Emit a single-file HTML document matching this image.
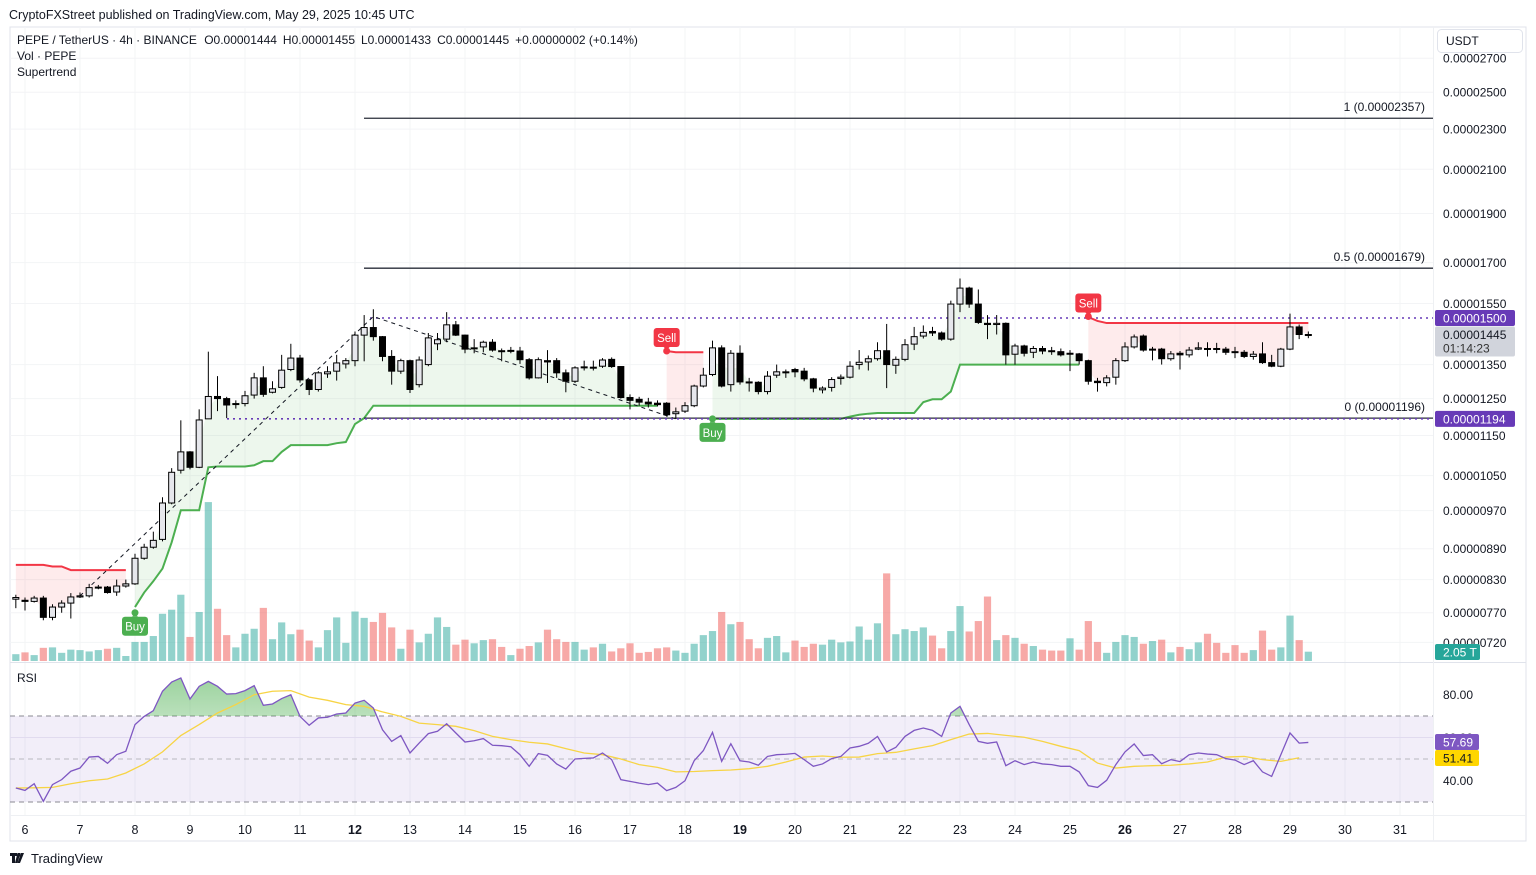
<!DOCTYPE html>
<html><head><meta charset="utf-8">
<style>
html,body{margin:0;padding:0;background:#fff;width:1536px;height:875px;overflow:hidden}
svg{display:block;font-family:"Liberation Sans",Arial,sans-serif}
</style></head>
<body>
<svg id="chart" width="1536" height="875" viewBox="0 0 1536 875" xmlns="http://www.w3.org/2000/svg">
<defs>
<clipPath id="mainClip"><rect x="10" y="27" width="1423" height="635"/></clipPath>
<clipPath id="rsiClip"><rect x="10" y="663" width="1423" height="152"/></clipPath>
<clipPath id="obClip"><rect x="10" y="663" width="1423" height="53"/></clipPath>
<linearGradient id="obGrad" x1="0" y1="0" x2="0" y2="1"><stop offset="0" stop-color="#4caf50" stop-opacity="0.55"/><stop offset="1" stop-color="#4caf50" stop-opacity="0.02"/></linearGradient>
</defs>
<text x="9" y="19" font-size="12.5" fill="#131722">CryptoFXStreet published on TradingView.com, May 29, 2025 10:45 UTC</text>
<rect x="10" y="27" width="1516" height="814" fill="none" stroke="#e0e3eb"/>
<g id="grid"></g>
<g id="rsiBand"></g>
<g id="main" clip-path="url(#mainClip)"></g>
<g id="rsi"></g>
<line x1="10" y1="662.5" x2="1526" y2="662.5" stroke="#e0e3eb"/>
<line x1="10" y1="815.5" x2="1526" y2="815.5" stroke="#eef0f3"/>
<line x1="1433.5" y1="27" x2="1433.5" y2="841" stroke="#eef0f3"/>
<g id="axes"></g>
<g font-size="12" fill="#131722">
<text x="17" y="44">PEPE / TetherUS · 4h · BINANCE  <tspan dx="4">O0.00001444</tspan><tspan dx="6">H0.00001455</tspan><tspan dx="6">L0.00001433</tspan><tspan dx="6">C0.00001445</tspan><tspan dx="6">+0.00000002 (+0.14%)</tspan></text>
<text x="17" y="60">Vol · PEPE</text>
<text x="17" y="76">Supertrend</text>
<text x="17" y="682">RSI</text>
</g>
<g>
<rect x="1437.5" y="29.5" width="85" height="23" rx="4" fill="#fff" stroke="#e0e3eb"/>
<text x="1446" y="45" font-size="12" fill="#131722">USDT</text>
</g>
<g>
<path d="M10 853h7v3h-2v7h-3v-7h-2z M17.5 853h3l-3 10h-2.5z" fill="#131722"/>
<circle cx="18.8" cy="855" r="1.6" fill="#131722"/>
<path d="M21 853h3l-4 10h-2.5z" fill="#131722"/>
<text x="31" y="863" font-size="13" fill="#131722">TradingView</text>
</g>
</svg>
<script>
// ---- data (prices in units of 1e-8 USDT) ----
const openP=[794,792,790,796,762,780,787,798,800,815,816,807,818,822,871,893,909,987,1063,1108,1070,1194,1256,1250,1234,1236,1260,1310,1268,1282,1335,1370,1304,1276,1322,1330,1352,1362,1443,1468,1438,1375,1330,1362,1290,1350,1415,1430,1477,1443,1400,1405,1420,1393,1392,1392,1365,1310,1362,1362,1325,1300,1342,1342,1345,1366,1344,1253,1248,1240,1237,1237,1208,1215,1230,1286,1320,1402,1290,1385,1298,1297,1270,1318,1327,1335,1330,1307,1275,1282,1308,1312,1350,1358,1368,1393,1348,1366,1414,1440,1455,1450,1430,1548,1605,1548,1482,1478,1482,1382,1408,1388,1400,1393,1390,1383,1383,1362,1300,1296,1312,1362,1405,1440,1395,1398,1368,1385,1380,1398,1400,1400,1398,1390,1388,1375,1383,1356,1345,1398,1470,1444];
const highP=[802,797,800,800,785,792,805,806,822,820,818,830,830,880,900,925,1000,1068,1190,1110,1220,1390,1315,1255,1245,1272,1325,1345,1300,1380,1415,1380,1307,1330,1345,1380,1370,1455,1510,1530,1440,1395,1368,1365,1375,1450,1450,1520,1490,1445,1430,1425,1430,1400,1405,1405,1370,1372,1395,1370,1335,1345,1362,1362,1370,1372,1345,1262,1255,1252,1245,1240,1225,1240,1290,1340,1425,1410,1395,1410,1310,1300,1330,1350,1335,1340,1340,1310,1285,1312,1320,1360,1395,1378,1420,1480,1375,1430,1470,1475,1470,1455,1560,1640,1610,1600,1510,1510,1485,1415,1412,1408,1408,1405,1400,1395,1386,1365,1310,1318,1370,1420,1445,1445,1405,1402,1392,1392,1405,1420,1420,1418,1405,1405,1395,1392,1420,1380,1402,1515,1478,1455];
const lowP=[778,774,788,757,757,770,760,796,797,812,804,800,815,820,868,890,905,984,1055,1065,1068,1194,1215,1196,1222,1228,1250,1255,1265,1278,1330,1296,1260,1270,1310,1302,1338,1345,1360,1425,1360,1290,1322,1266,1282,1345,1395,1420,1440,1385,1385,1388,1390,1360,1385,1352,1305,1308,1295,1310,1268,1295,1332,1332,1340,1340,1250,1220,1230,1225,1228,1200,1194,1210,1226,1282,1315,1282,1270,1290,1270,1262,1262,1310,1310,1312,1300,1268,1265,1270,1290,1308,1335,1332,1362,1280,1322,1360,1395,1432,1440,1425,1425,1520,1535,1480,1430,1445,1350,1350,1375,1370,1382,1380,1375,1330,1350,1290,1270,1285,1290,1358,1400,1390,1363,1350,1362,1335,1372,1395,1375,1385,1380,1370,1370,1365,1352,1342,1342,1395,1430,1433];
const closeP=[797,790,796,762,780,787,798,800,815,816,806,818,822,871,893,907,987,1058,1108,1070,1191,1256,1250,1232,1236,1258,1310,1262,1278,1333,1370,1304,1276,1325,1328,1355,1362,1443,1468,1438,1375,1330,1362,1276,1364,1434,1428,1477,1443,1398,1402,1420,1395,1392,1394,1365,1310,1365,1358,1325,1300,1340,1343,1340,1364,1344,1253,1245,1240,1235,1233,1205,1213,1230,1286,1318,1402,1286,1385,1298,1295,1270,1315,1328,1328,1328,1307,1280,1280,1305,1312,1345,1357,1368,1393,1350,1366,1412,1438,1452,1450,1430,1548,1605,1548,1485,1478,1482,1380,1408,1385,1400,1392,1392,1380,1385,1362,1300,1296,1310,1362,1405,1437,1395,1398,1368,1383,1380,1395,1402,1398,1398,1388,1388,1375,1382,1356,1345,1398,1470,1445,1445];
// volume in trillions PEPE
const volume=[1.5,1.9,1.3,2.9,3.0,1.8,2.5,2.4,2.1,2.4,2.7,2.9,1.1,4.2,4.2,5.5,10.4,11.3,14.6,5.3,10.8,35,11.5,5.7,3.0,6.0,7.1,11.7,4.8,8.5,5.9,6.9,4.5,3.0,6.8,9.6,4.0,10.9,9.5,8.6,10.6,7.4,2.7,6.9,4.1,6.0,9.6,7.5,3.6,4.7,3.9,4.6,4.8,3.1,1.3,2.7,3.3,4.1,6.9,4.8,4.2,4.2,2.5,3.0,3.8,2.1,2.8,3.9,1.8,2.0,2.8,3.0,2.3,1.8,3.8,5.7,6.6,10.8,8.1,8.6,4.8,2.8,5.1,5.5,1.9,4.5,3.1,3.8,3.6,4.7,4.1,4.3,7.6,4.7,8.3,19.3,5.9,7.0,6.6,7.4,5.6,2.8,6.6,12.1,6.5,8.8,14.2,4.6,5.7,5.1,3.8,3.3,2.5,2.3,2.3,5.0,2.5,8.8,4.2,1.8,4.2,5.7,5.3,3.8,4.4,4.7,1.9,3.1,2.6,4.1,6.0,4.0,1.8,3.5,1.8,2.4,6.7,2.5,3.0,10.0,4.6,2.05];
const rsiVals=[36.5,35.4,38.5,30.3,38.1,40.4,44.3,45.8,50.9,51.2,48.0,52.0,53.6,66.0,69.8,72.5,81.5,85.8,87.7,77.9,83.8,86.1,83.8,80.2,80.4,81.8,84.1,75.0,75.6,78.1,79.9,69.8,65.7,69.1,69.4,70.9,71.4,76.0,77.3,73.7,63.6,58.2,60.9,52.8,57.4,61.8,62.9,66.4,62.1,57.9,58.5,59.5,56.4,56.2,55.7,52.0,46.6,52.5,51.7,47.7,45.3,50.0,50.3,50.5,52.8,49.7,40.4,39.6,38.8,38.1,38.8,35.3,36.8,39.9,49.2,53.9,62.4,48.9,57.1,49.2,48.6,47.1,51.2,52.0,52.2,52.6,49.7,46.6,47.7,50.2,51.2,55.1,55.9,57.3,60.5,53.3,55.4,60.5,63.3,64.4,63.3,60.5,71.4,74.5,66.0,58.2,57.3,57.9,46.9,49.2,47.4,48.6,47.7,47.4,46.6,46.6,44.0,37.6,36.8,40.1,47.4,53.3,57.0,51.6,52.0,47.8,49.7,48.8,52.0,52.8,52.3,52.0,50.2,49.5,47.4,49.2,44.0,41.9,52.0,62.1,57.4,57.7];
// RSI moving average, sampled every 2nd candle (i = 0,2,4,...)
const rsiMAVals=[36.5,36.6,36.8,38.5,39.9,40.7,43.5,47.7,53.3,60.9,66.0,71.4,75.3,79.9,81.5,81.8,78.8,77.3,75.3,74.5,71.9,69.8,66.7,66.0,65.2,63.2,60.5,59.0,57.8,57.0,54.8,52.8,52.0,50.0,47.4,46.1,44.0,44.2,44.6,44.9,45.5,46.6,48.6,50.9,51.4,50.8,50.9,52.5,53.1,54.7,56.2,59.0,61.6,61.9,61.0,60.1,58.2,55.9,53.9,48.1,45.8,46.6,46.9,47.1,47.7,48.6,50.9,51.2,49.7,48.9,50.6];
const rsiMAStep=2;
// supertrend values and direction (1 = up/green, -1 = down/red)
const stVals=[858,858,858,858,855,855,848,848,848,848,848,848,848,780,806,827,851,903,971,971,971,1070,1072,1072,1072,1072,1075,1085,1085,1108,1125,1125,1125,1125,1125,1130,1133,1180,1196,1230,1230,1230,1230,1230,1230,1230,1230,1230,1230,1230,1230,1230,1230,1230,1230,1230,1230,1230,1230,1230,1230,1230,1230,1230,1230,1230,1230,1230,1230,1230,1230,1392,1388,1388,1388,1388,1194,1194,1194,1194,1194,1194,1194,1194,1194,1194,1194,1194,1194,1194,1194,1200,1205,1208,1210,1210,1210,1210,1210,1240,1248,1248,1270,1350,1350,1350,1350,1350,1350,1350,1350,1350,1350,1350,1350,1350,1350,1503,1490,1483,1483,1483,1483,1483,1483,1483,1483,1483,1483,1483,1483,1483,1483,1483,1483,1483,1483,1483,1483,1483,1483,1483];
const stDir=[-1,-1,-1,-1,-1,-1,-1,-1,-1,-1,-1,-1,-1,1,1,1,1,1,1,1,1,1,1,1,1,1,1,1,1,1,1,1,1,1,1,1,1,1,1,1,1,1,1,1,1,1,1,1,1,1,1,1,1,1,1,1,1,1,1,1,1,1,1,1,1,1,1,1,1,1,1,-1,-1,-1,-1,-1,1,1,1,1,1,1,1,1,1,1,1,1,1,1,1,1,1,1,1,1,1,1,1,1,1,1,1,1,1,1,1,1,1,1,1,1,1,1,1,1,1,-1,-1,-1,-1,-1,-1,-1,-1,-1,-1,-1,-1,-1,-1,-1,-1,-1,-1,-1,-1,-1,-1,-1,-1,-1];
const zigzagIdx=[7,39,72];
const zigzagPrice=[800,1505,1194];
const fibPrices=[2357,1679,1196];
const fibLabels=["1 (0.00002357)","0.5 (0.00001679)","0 (0.00001196)"];
const priceTicks=[2700,2500,2300,2100,1900,1700,1550,1350,1250,1150,1050,970,890,830,770,720];
const dayLabels=["6","7","8","9","10","11","12","13","14","15","16","17","18","19","20","21","22","23","24","25","26","27","28","29","30","31"];
const boldDays=["12","19","26"];
const rsiTicks=[80,60,40];
const lastPrice=1445, hiLine=1500, loLine=1194;

// ---- scales ----
const NS="http://www.w3.org/2000/svg";
function xOf(i){return 25+(i-1)*55/6;}
function yOf(p){return 318-442*Math.log(p/1500);}
function yVol(v){return 661-v*4.54;}
function yRsi(v){return 759-(v-50)*2.15;}
function dayX(k){return 25+k*55;}
function el(tag,attrs,parent){const e=document.createElementNS(NS,tag);for(const k in attrs)e.setAttribute(k,attrs[k]);parent.appendChild(e);return e;}
const grid=document.getElementById('grid'),main=document.getElementById('main'),rsiG=document.getElementById('rsi'),axes=document.getElementById('axes'),band=document.getElementById('rsiBand');
const fmt=p=>"0."+String(Math.round(p)).padStart(13,"0").slice(-13).replace(/^/,"").padStart(13,"0");
function priceStr(p){return "0.0000"+String(Math.round(p*10)).padStart(4,"0").slice(0,4)+"0";}
function pstr(p){const v=p*1e-8;return v.toFixed(8);}

// grid
priceTicks.forEach(p=>{const l=el('line',{x1:10,x2:1433,y1:yOf(p),y2:yOf(p),stroke:'#f3f4f6'},grid);});
dayLabels.forEach((d,k)=>{const l=el('line',{x1:dayX(k),x2:dayX(k),y1:27,y2:815,stroke:'#f3f4f6'},grid);});
[60].forEach(v=>{const l=el('line',{x1:10,x2:1433,y1:yRsi(v),y2:yRsi(v),stroke:'#eceaf4'},grid);});
// RSI band
const bnd=el('rect',{x:10,y:yRsi(70),width:1423,height:yRsi(30)-yRsi(70),fill:'rgba(126,87,194,0.1)'},band);

[70,50,30].forEach(v=>{const l=el('line',{x1:10,x2:1433,y1:yRsi(v),y2:yRsi(v),stroke:v==50?'#b8b8c0':'#8a8a92','stroke-dasharray':'5 4'},band);});

// volume
volume.forEach((v,i)=>{const up=closeP[i]>=openP[i];const r=el('rect',{x:xOf(i)-3.6,y:yVol(v),width:7.2,height:661-yVol(v),fill:up?'rgba(38,166,154,0.5)':'rgba(239,83,80,0.5)'},main);});

// supertrend segments
let segs=[],cur=null;
stDir.forEach((d,i)=>{if(!cur||cur.d!==d){cur={d:d,a:i,b:i};segs.push(cur);}else cur.b=i;});
segs.forEach(s=>{
  let pts=[],mids=[];
  for(let i=s.a;i<=s.b;i++){pts.push([xOf(i),yOf(stVals[i])]);mids.push([xOf(i),yOf((openP[i]+closeP[i])/2)]);}
  const poly=pts.concat(mids.reverse()).map(p=>p.join(',')).join(' ');
  const f=el('polygon',{points:poly,fill:s.d>0?'rgba(76,175,80,0.1)':'rgba(242,54,69,0.1)'},main);
  
  let d='';
  for(let i=s.a;i<=s.b;i++){const x=xOf(i),y=yOf(stVals[i]);if(i===s.a)d+='M'+x+' '+y;else{d+=' L'+x+' '+y;}}
  const ln=el('path',{d:d,fill:'none',stroke:s.d>0?'#4caf50':'#f23645','stroke-width':2},main);
  
});

// fib & level lines
fibPrices.forEach((p,k)=>{
  const l=el('line',{x1:364,x2:1433,y1:yOf(p),y2:yOf(p),stroke:'#2a2e39','stroke-width':1.3},main);
  
  const t=el('text',{x:1425,y:yOf(p)-7,'font-size':12,fill:'#131722','text-anchor':'end'},main);t.textContent=fibLabels[k];
  
});
[[hiLine,370],[loLine,227]].forEach(a=>{const l=el('line',{x1:a[1],x2:1433,y1:yOf(a[0]),y2:yOf(a[0]),stroke:'#673ab7','stroke-width':1.6,'stroke-dasharray':'2 4'},main);});
// zigzag
const zz=el('polyline',{points:zigzagIdx.map((ix,k)=>xOf(ix)+','+yOf(zigzagPrice[k])).join(' '),fill:'none',stroke:'#131722','stroke-width':1,'stroke-dasharray':'4 4'},main);


// candles
openP.forEach((o,i)=>{
  const c=closeP[i],up=c>=o,x=xOf(i);
  const g=el('g',{},main);
  el('line',{x1:x,x2:x,y1:yOf(highP[i]),y2:yOf(lowP[i]),stroke:'#000','stroke-width':1},g);
  const yt=yOf(Math.max(o,c)),yb=yOf(Math.min(o,c));
  el('rect',{x:x-3,y:yt,width:6,height:Math.max(1,yb-yt),fill:up?'#e6e7ec':'#000',stroke:'#000','stroke-width':1},g);
});

// signals
function signal(i,price,type){
  const x=xOf(i),y=yOf(price),buy=type==='Buy',col=buy?'#4caf50':'#f23645';
  const g=el('g',{},main);
  el('circle',{cx:x,cy:y,r:3.5,fill:col},g);
  const by=buy?y+4:y-23;
  el('rect',{x:x-13,y:by,width:26,height:19,rx:3,fill:col},g);
  el('path',{d:buy?`M${x-3} ${by} L${x} ${by-3} L${x+3} ${by}z`:`M${x-3} ${by+19} L${x} ${by+22} L${x+3} ${by+19}z`,fill:col},g);
  const t=el('text',{x:x,y:by+14,'font-size':11.5,fill:'#fff','text-anchor':'middle'},g);t.textContent=type;
}
signal(13,770,'Buy');signal(71,1392,'Sell');signal(76,1194,'Buy');signal(117,1505,'Sell');

// RSI
const rsiPath=rsiVals.map((v,i)=>(i?'L':'M')+xOf(i)+' '+yRsi(v)).join(' ');
const ob=el('path',{d:rsiPath+` L${xOf(rsiVals.length-1)} ${yRsi(70)} L${xOf(0)} ${yRsi(70)} Z`,fill:'url(#obGrad)','clip-path':'url(#obClip)'},rsiG);

const maLine=el('path',{d:rsiMAVals.map((v,k)=>(k?'L':'M')+xOf(k*rsiMAStep)+' '+yRsi(v)).join(' '),fill:'none',stroke:'#f7d445','stroke-width':1.3},rsiG);

const rl=el('path',{d:rsiPath,fill:'none',stroke:'#7e57c2','stroke-width':1.3},rsiG);


// price axis
priceTicks.forEach(p=>{const t=el('text',{x:1443,y:yOf(p)+4.5,'font-size':12,fill:'#131722'},axes);t.textContent=pstr(p);});
function tag(y,h,bg,txt,fg,name,w){const g=el('g',{},axes);el('rect',{x:1435,y:y,width:w||80,height:h,rx:2,fill:bg},g);return g;}
let g1=tag(yOf(hiLine)-8,16,'#673ab7','','', 'level-price-tag');let t1=el('text',{x:1443,y:yOf(hiLine)+4.5,'font-size':12,fill:'#fff'},g1);t1.textContent=pstr(hiLine);
let g2=tag(yOf(lastPrice)-8,30,'#d1d4dc','','','last-price-tag');let t2=el('text',{x:1443,y:yOf(lastPrice)+4.5,'font-size':12,fill:'#131722'},g2);t2.textContent=pstr(lastPrice);
let t2b=el('text',{x:1443,y:yOf(lastPrice)+18,'font-size':12,fill:'#333'},g2);t2b.textContent='01:14:23';
let g3=tag(yOf(loLine)-8,16,'#673ab7','','','level-price-tag');let t3=el('text',{x:1443,y:yOf(loLine)+4.5,'font-size':12,fill:'#fff'},g3);t3.textContent=pstr(loLine);
const lv=volume[volume.length-1];
let g4=tag(644,16,'#26a69a','','','volume-tag',45);let t4=el('text',{x:1443,y:656.5,'font-size':12,fill:'#fff'},g4);t4.textContent=lv.toFixed(2)+' T';
rsiTicks.forEach(v=>{const t=el('text',{x:1443,y:yRsi(v)+4.5,'font-size':12,fill:'#131722'},axes);t.textContent=v.toFixed(2);});
const lr=rsiVals[rsiVals.length-1],lm=rsiMAVals[rsiMAVals.length-1];
let g5=tag(734,16,'#7e57c2','','','rsi-value-tag',44);let t5=el('text',{x:1443,y:746.5,'font-size':12,fill:'#fff'},g5);t5.textContent='57.69';
let g6=tag(750,16,'#ffd600','','','rsi-ma-value-tag',44);let t6=el('text',{x:1443,y:762.5,'font-size':12,fill:'#131722'},g6);t6.textContent='51.41';
// time axis
dayLabels.forEach((d,k)=>{const t=el('text',{x:dayX(k),y:834,'font-size':12.5,fill:'#131722','text-anchor':'middle','font-weight':boldDays.includes(d)?'bold':'normal'},axes);t.textContent=d;});
</script>
</body></html>
